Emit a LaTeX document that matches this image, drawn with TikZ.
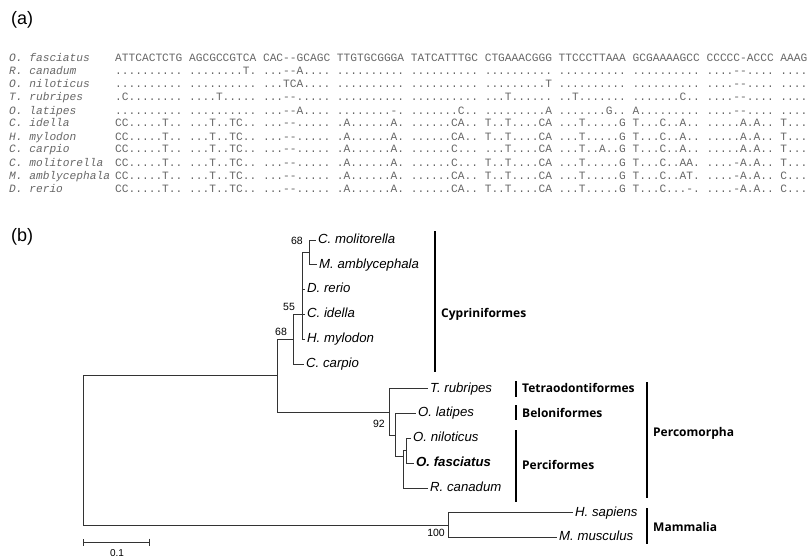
\documentclass[tikz,border=0pt]{standalone}
\usepackage{fontspec}
\setmainfont{Liberation Sans}
\setmonofont{Liberation Mono}
\newfontfamily\grpfont{Open Sans}
\usetikzlibrary{arrows.meta}

\def\seqA{ATTCACTCTG AGCGCCGTCA CAC--GCAGC TTGTGCGGGA TATCATTTGC CTGAAACGGG TTCCCTTAAA GCGAAAAGCC CCCCC-ACCC AAAG}
\def\seqB{.......... ........T. ...--A.... .......... .......... .......... .......... .......... ....--.... ....}
\def\seqC{.......... .......... ...TCA.... .......... .......... .........T .......... .......... ....--.... ....}
\def\seqD{.C........ ....T..... ...--..... .......... .......... ...T...... ..T....... .......C.. ....--.... ....}
\def\seqE{.......... .......... ...--A.... ........-. .......C.. .........A .......G.. A......... ....--.... ....}
\def\seqF{CC.....T.. ...T..TC.. ...--..... .A......A. ......CA.. T..T....CA ...T.....G T...C..A.. .....A.A.. T...}
\def\seqG{CC.....T.. ...T..TC.. ...--..... .A......A. ......CA.. T..T....CA ...T.....G T...C..A.. .....A.A.. T...}
\def\seqH{CC.....T.. ...T..TC.. ...--..... .A......A. ......C... ...T....CA ...T..A..G T...C..A.. .....A.A.. T...}
\def\seqI{CC.....T.. ...T..TC.. ...--..... .A......A. ......C... T..T....CA ...T.....G T...C..AA. ....-A.A.. T...}
\def\seqJ{CC.....T.. ...T..TC.. ...--..... .A......A. ......CA.. T..T....CA ...T.....G T...C..AT. ....-A.A.. C...}
\def\seqK{CC.....T.. ...T..TC.. ...--..... .A......A. ......CA.. T..T....CA ...T.....G T...C...-. ....-A.A.. C...}

\begin{document}
\frenchspacing
\begin{tikzpicture}[x=1pt, y=-1pt,
  seq/.style={anchor=base west, inner sep=0pt, text=black!60, font=\ttfamily\fontsize{11.2}{12}\selectfont},
  seqname/.style={seq, font=\ttfamily\itshape\fontsize{11.2}{12}\selectfont},
  panel/.style={anchor=west, inner sep=0pt, font=\fontsize{18}{20}\selectfont},
  taxon/.style={anchor=west, inner sep=2pt, text height=9.5pt, text depth=2.8pt, font=\itshape\fontsize{13.2}{15}\selectfont},
  boot/.style={inner sep=1pt, font=\fontsize{10.5}{12}\selectfont},
  grp/.style={anchor=west, inner sep=0pt, font=\grpfont\bfseries\fontsize{12}{14}\selectfont},
  branch/.style={line width=0.7pt, black!80},
  grpbar/.style={line width=2.2pt}]
\useasboundingbox (0,0) rectangle (808,559);

\node[panel] (parta) at (11,20) {(a)};
\node[panel] (partb) at (11,237) {(b)};

% alignment
\foreach \nm/\sq [count=\i] in {O. fasciatus/\seqA, R. canadum/\seqB, O. niloticus/\seqC,
  T. rubripes/\seqD, O. latipes/\seqE, C. idella/\seqF, H. mylodon/\seqG, C. carpio/\seqH,
  C. molitorella/\seqI, M. amblycephala/\seqJ, D. rerio/\seqK} {
  \node[seqname] (name\i) at (9,{49+13*\i}) {\nm};
  \node[seq] (seq\i) at (115,{49+13*\i}) {\sq};
}

% tree
\coordinate (root) at (83,450);
\coordinate (fish) at (277,375.6);
\coordinate (cyp) at (293,339.2);
\coordinate (n55) at (302,314.4);
\coordinate (n68) at (309,252.4);
\coordinate (perc) at (389,412);
\coordinate (belperc) at (395,435.2);
\coordinate (percif) at (403,456.8);
\coordinate (orech) at (406,450.8);
\coordinate (mam) at (448,525.2);

\node[taxon] (cmol) at (316,240) {C. molitorella};
\node[taxon] (mamb) at (317,264.8) {M. amblycephala};
\node[taxon] (drer) at (305,289.6) {D. rerio};
\node[taxon] (cide) at (305,314.4) {C. idella};
\node[taxon] (hmyl) at (305,339.2) {H. mylodon};
\node[taxon] (ccar) at (304,364) {C. carpio};
\node[taxon] (trub) at (428,388.8) {T. rubripes};
\node[taxon] (olat) at (416,413.6) {O. latipes};
\node[taxon] (onil) at (411,438.4) {O. niloticus};
\node[taxon, font=\bfseries\itshape\fontsize{13.2}{15}\selectfont] (ofas) at (414,463.2) {O. fasciatus};
\node[taxon] (rcan) at (428,488) {R. canadum};
\node[taxon] (hsap) at (573,512.8) {H. sapiens};
\node[taxon] (mmus) at (557,537.6) {M. musculus};

\foreach \p/\c in {root/fish, root/mam, fish/cyp, fish/perc, cyp/n55, cyp/ccar.west,
  n55/n68, n55/drer.west, n55/cide.west, n55/hmyl.west, n68/cmol.west, n68/mamb.west,
  perc/trub.west, perc/belperc, belperc/olat.west, belperc/percif,
  percif/orech, percif/rcan.west, orech/onil.west, orech/ofas.west,
  mam/hsap.west, mam/mmus.west}
  \draw[branch] (\p) |- (\c);

\node[boot, anchor=east] (bs68a) at (304,241) {68};
\node[boot, anchor=south] (bs55) at (289,312) {55};
\node[boot, anchor=south] (bs68b) at (281,337) {68};
\node[boot, anchor=east] (bs92) at (386,424) {92};
\node[boot, anchor=north east] (bs100) at (446,528) {100};

% scale
\coordinate (sbl) at (83,542);
\coordinate (sbr) at (150,542);
\draw[branch, {Bar[width=7pt]}-{Bar[width=7pt]}] (sbl) -- (sbr);
\node[boot, font=\fontsize{10}{12}\selectfont] (sblab) at (117,553) {0.1};

% groups
\foreach \x/\ya/\yb/\yt/\nm [count=\k] in {435/231/372/314/Cypriniformes,
  516/381/397/388/Tetraodontiformes, 516/405/420/413/Beloniformes,
  516/430/502/465/Perciformes, 647/382/498/433/Percomorpha, 647/508/544/527/Mammalia} {
  \draw[grpbar] (\x,\ya) -- (\x,\yb);
  \node[grp] (grp\k) at (\x+6,\yt) {\nm};
}
\end{tikzpicture}
\end{document}
